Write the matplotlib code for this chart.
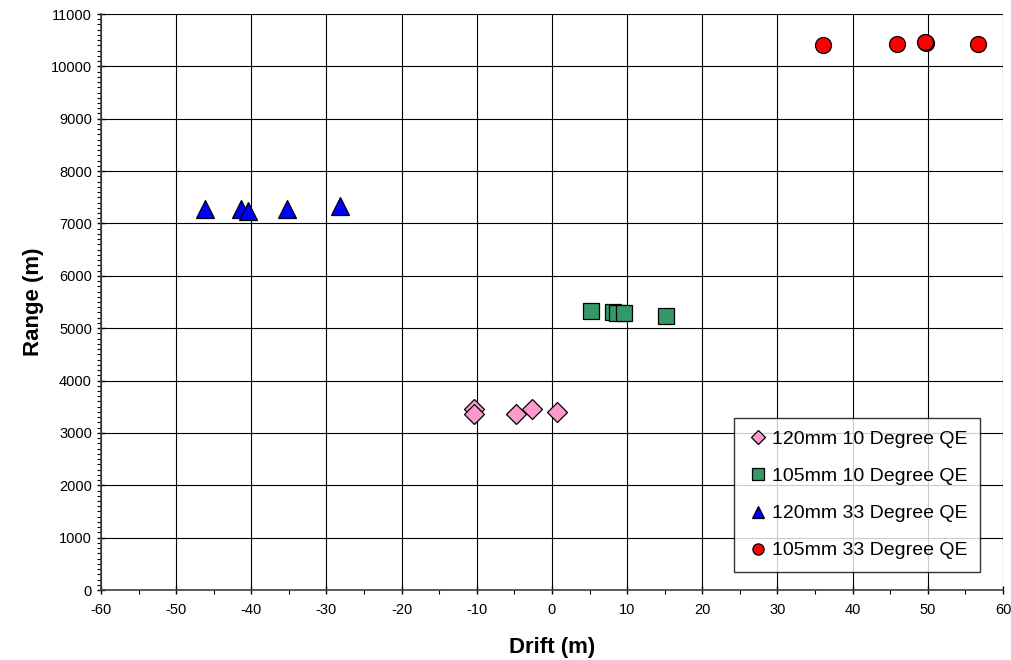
import matplotlib
matplotlib.use("Agg")
import matplotlib.pyplot as plt
from matplotlib.ticker import MultipleLocator

plt.rcParams['font.family'] = ['Liberation Sans', 'DejaVu Sans']
plt.rcParams['axes.unicode_minus'] = False

# 120mm 10 Degree QE
drift_120_10 = [-10.4, -10.4, -4.8, -2.7, 0.7]
range_120_10 = [3455, 3360, 3360, 3455, 3400]
# 105mm 10 Degree QE
drift_105_10 = [5.2, 8.1, 8.6, 9.6, 15.2]
range_105_10 = [5330, 5310, 5290, 5290, 5235]
# 120mm 33 Degree QE
drift_120_33 = [-46.2, -41.4, -40.4, -35.3, -28.2]
range_120_33 = [7275, 7275, 7240, 7270, 7335]
# 105mm 33 Degree QE
drift_105_33 = [36.0, 45.9, 49.8, 49.6, 56.7]
range_105_33 = [10410, 10430, 10450, 10465, 10430]

series = [
    ("120mm 10 Degree QE", drift_120_10, range_120_10, 'D', '#FF99CC', 10.5),
    ("105mm 10 Degree QE", drift_105_10, range_105_10, 's', '#339966', 11.5),
    ("120mm 33 Degree QE", drift_120_33, range_120_33, '^', '#0000FF', 12.5),
    ("105mm 33 Degree QE", drift_105_33, range_105_33, 'o', '#FF0000', 11.5),
]

fig = plt.figure(figsize=(10.12, 6.6), dpi=100)
ax = fig.add_axes([101/1012, 70/660, 902/1012, 576/660])

for label, xs, ys, m, c, ms in series:
    ax.plot(xs, ys, linestyle='none', marker=m, markersize=ms,
            markerfacecolor=c, markeredgecolor='black', markeredgewidth=0.9,
            label=label, zorder=3)

ax.set_xlim(-60, 60)
ax.set_ylim(0, 11000)
ax.xaxis.set_major_locator(MultipleLocator(10))
ax.xaxis.set_minor_locator(MultipleLocator(5))
ax.yaxis.set_major_locator(MultipleLocator(1000))
ax.yaxis.set_minor_locator(MultipleLocator(100))
ax.grid(True, which='major', color='black', linewidth=0.8)
ax.set_axisbelow(True)
for s in ['top', 'right']:
    ax.spines[s].set_visible(False)
for s in ['left', 'bottom']:
    ax.spines[s].set_color('#404040')
    ax.spines[s].set_linewidth(1.2)

ax.tick_params(axis='both', which='major', direction='inout', length=6, width=1, labelsize=10.5)
ax.tick_params(axis='both', which='minor', direction='out', length=3, width=0.8)
ax.tick_params(axis='x', pad=6)

ax.set_xlabel('Drift (m)', fontsize=16, fontweight='bold', labelpad=15)
ax.set_ylabel('Range (m)', fontsize=16, fontweight='bold', labelpad=5)

leg = ax.legend(loc='lower right', bbox_to_anchor=((980 - 101) / 902, (590 - 572) / 576),
                fontsize=14, frameon=True, fancybox=False, edgecolor='black',
                handletextpad=0.1, handlelength=1.2, labelspacing=1.0,
                borderpad=0.65, markerscale=0.7, borderaxespad=0)
leg.get_frame().set_linewidth(1.0)

fig.savefig('out.png', dpi=100)
